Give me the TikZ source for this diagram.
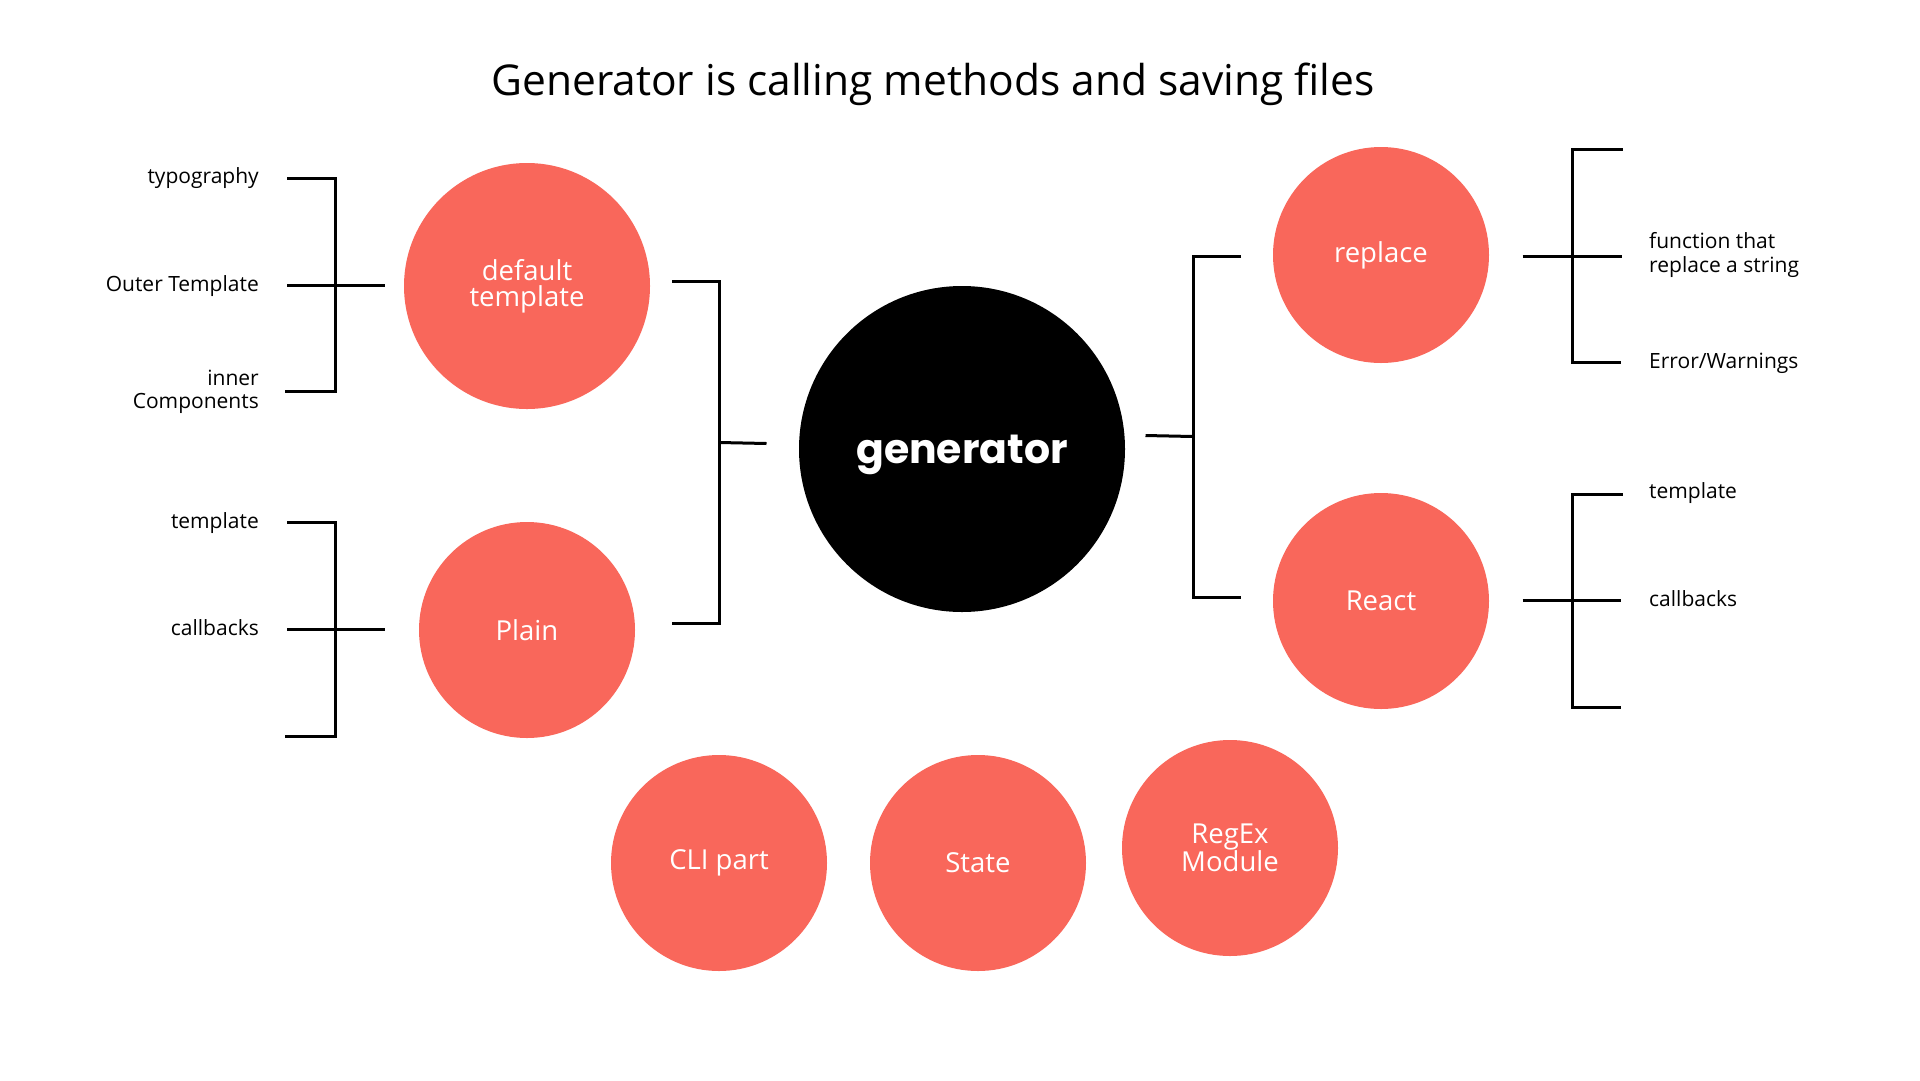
\documentclass[tikz,border=0pt]{standalone}
\usepackage{fontspec}
\setmainfont{Open Sans}
\newfontfamily\genfont{Poppins}
\definecolor{coral}{RGB}{249,103,91}
\begin{document}
\begin{tikzpicture}[x=1pt,y=-1pt,
  bub/.style={circle,fill=coral,draw=none,text=white,align=center,inner sep=0pt,minimum size=216,font=\fontsize{27.5}{26}\selectfont},
  lbl/.style={font=\fontsize{21}{23.5}\selectfont,inner sep=0pt},
  br/.style={line width=3pt,draw=black,line join=miter}
]
\useasboundingbox[fill=white] (0,0) rectangle (1920,1080);

% title
\node[anchor=base,inner sep=0pt,font=\fontsize{42.5}{50}\selectfont] (title) at (933,95) {Generator is calling methods and saving files};

% circles
\node[bub,minimum size=246] (deft) at (527,286) {default\\template};
\node[bub] (plain) at (527,630) {Plain};
\node[circle,fill=black,text=white,inner sep=0pt,minimum size=326,font=\genfont\bfseries\fontsize{41}{41}\selectfont] (gen) at (962,449) {\raisebox{-14pt}[0pt][0pt]{generator}};
\node[bub] (repl) at (1381,255) {replace};
\node[bub] (react) at (1381,601) {React};
\node[bub] (cli) at (719,863) {CLI part};
\node[bub] (state) at (978,863) {State};
\node[bub] (regex) at (1230,848) {RegEx\\Module};

% left labels
\node[lbl,anchor=base east] (typo) at (259,183.5) {typography};
\node[lbl,anchor=base east] (outer) at (259,291.5) {Outer Template};
\node[lbl,anchor=east,align=right] (inner) at (259,392) {inner\\Components};
\node[lbl,anchor=base east] (ptmpl) at (259,528.5) {template};
\node[lbl,anchor=base east] (pcall) at (259,635) {callbacks};

% right labels
\node[lbl,anchor=west,align=left] (func) at (1649,255) {function that\\replace a string};
\node[lbl,anchor=base west] (err) at (1649,368.5) {Error/Warnings};
\node[lbl,anchor=base west] (rtmpl) at (1649,498.5) {template};
\node[lbl,anchor=base west] (rcall) at (1649,606.5) {callbacks};

% coordinates of bracket ends
\coordinate (a1) at (287,178.5);
\coordinate (a2) at (287,285.5);
\coordinate (a3) at (285,391.5);
\coordinate (aB) at (335,391.5);
\coordinate (aM) at (385,285.5);

\coordinate (b1) at (287,522.5);
\coordinate (b2) at (287,629.5);
\coordinate (b3) at (285,736);
\coordinate (bB) at (335,736);
\coordinate (bM) at (385,629.5);

\coordinate (c1) at (672,281.5);
\coordinate (c3) at (672,623.5);
\coordinate (cB) at (719.5,623.5);
\coordinate (cS) at (719.5,442.5);
\coordinate (cM) at (766.5,443.5);

\coordinate (d1) at (1241,256);
\coordinate (d3) at (1241,597.5);
\coordinate (dB) at (1193,597.5);
\coordinate (dS) at (1193,436.5);
\coordinate (dM) at (1145.5,435.5);

\coordinate (e1) at (1622.5,149.5);
\coordinate (e2) at (1622,256);
\coordinate (e3) at (1621,362.5);
\coordinate (eB) at (1572.5,362.5);
\coordinate (eM) at (1522.5,256);

\coordinate (f1) at (1622.5,494);
\coordinate (f2) at (1621,600.5);
\coordinate (f3) at (1621,707.5);
\coordinate (fB) at (1572.5,707.5);
\coordinate (fM) at (1522.5,600.5);

% brackets
\draw[br] (a1) -| (aB) -- (a3);
\draw[br] (a2) -- (aM);
\draw[br] (b1) -| (bB) -- (b3);
\draw[br] (b2) -- (bM);
\draw[br] (c1) -| (cB) -- (c3);
\draw[br] (cS) -- (cM);
\draw[br] (d1) -| (dB) -- (d3);
\draw[br] (dM) -- (dS);
\draw[br] (e1) -| (eB) -- (e3);
\draw[br] (eM) -- (e2);
\draw[br] (f1) -| (fB) -- (f3);
\draw[br] (fM) -- (f2);
\end{tikzpicture}
\end{document}
